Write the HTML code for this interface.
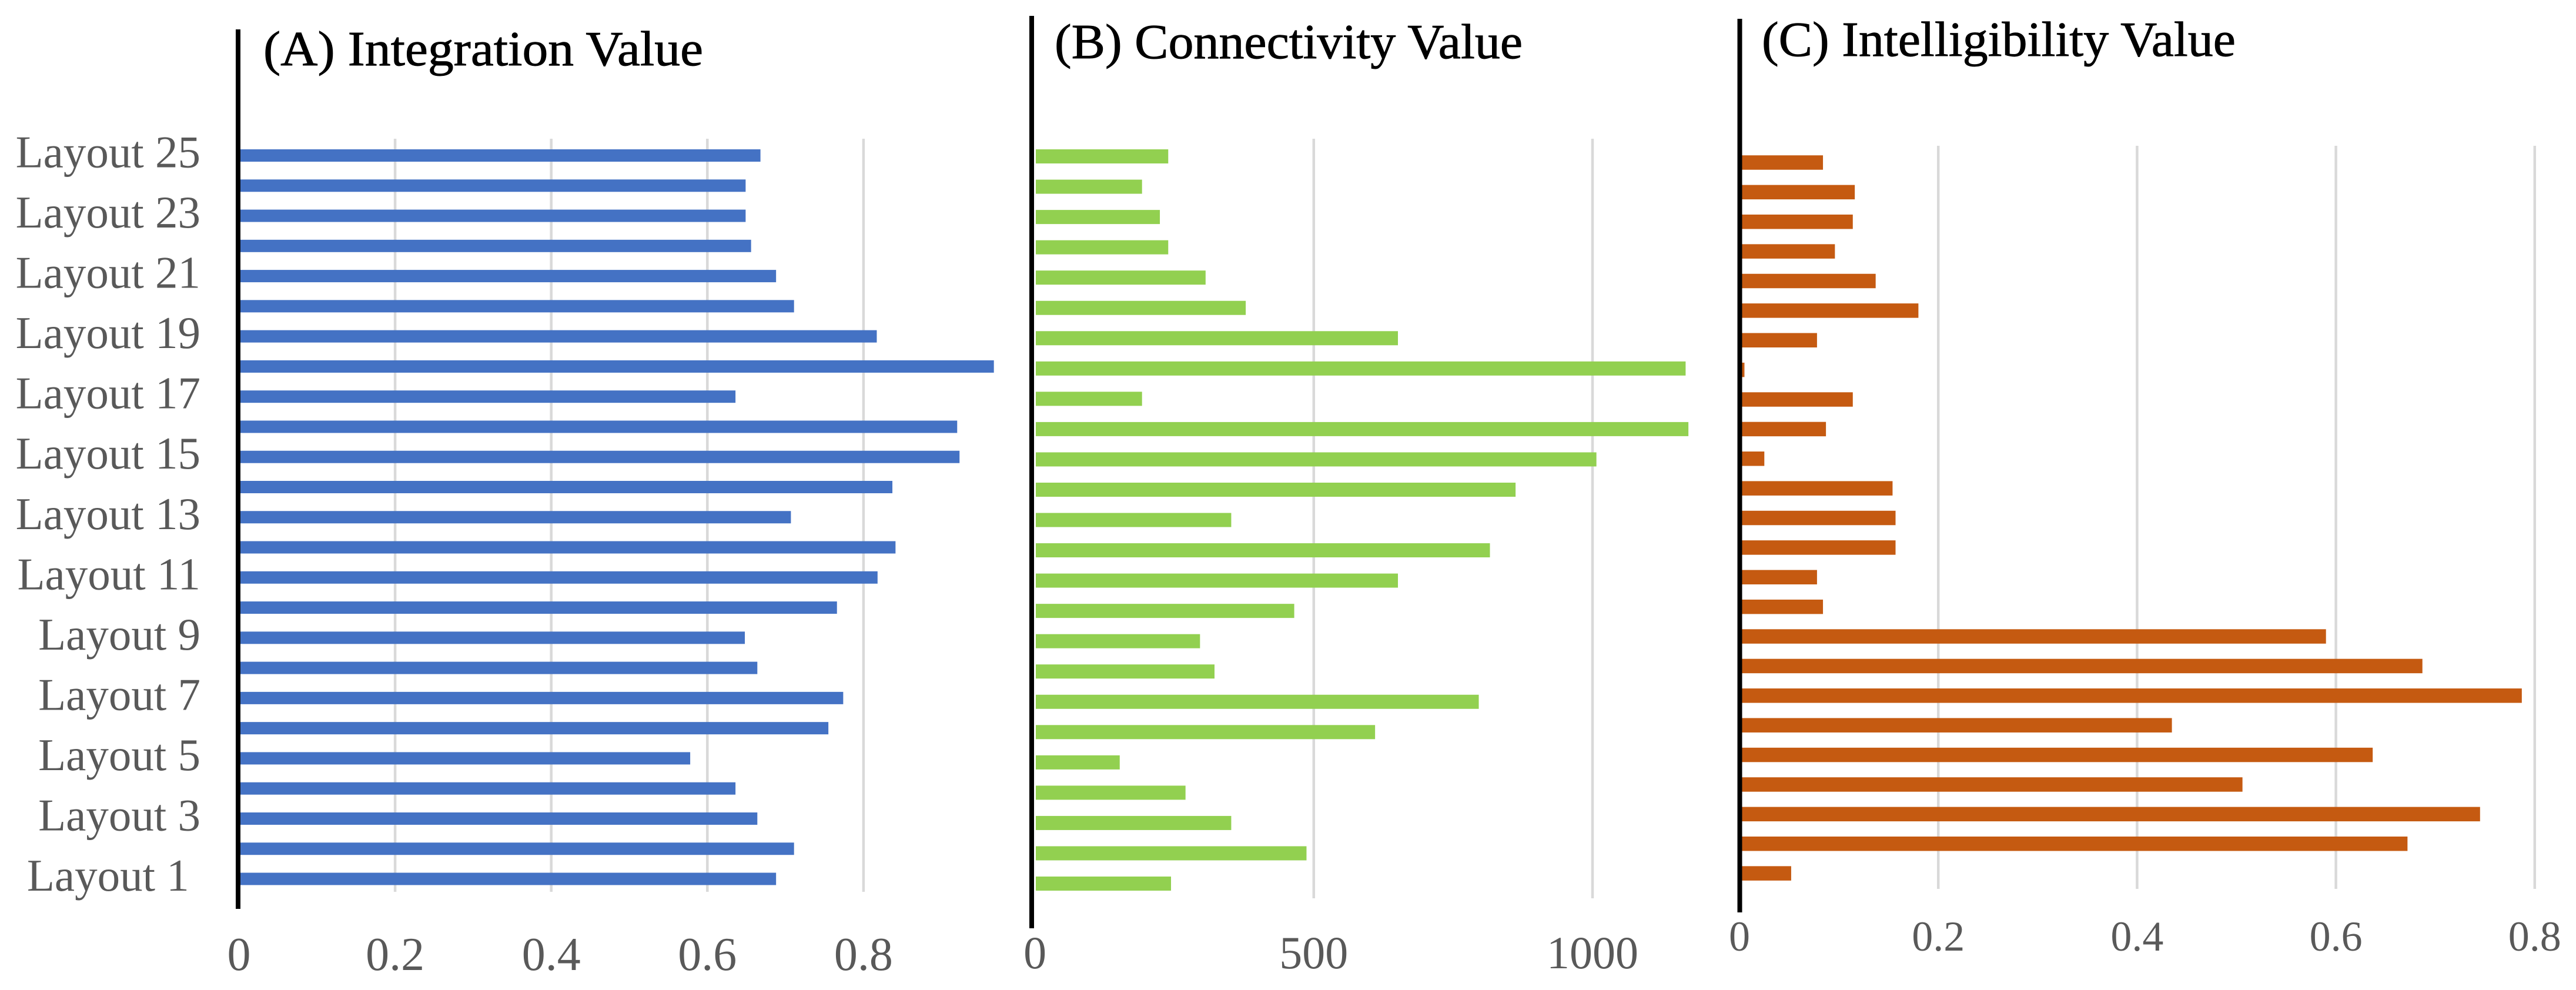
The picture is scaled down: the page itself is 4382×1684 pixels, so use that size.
<!DOCTYPE html>
<html lang="en">
<head>
<meta charset="utf-8">
<title>Integration, Connectivity and Intelligibility Values by Layout</title>
<style>
html,body{margin:0;padding:0;background:#fff;}
svg{display:block;}
text{font-family:"Liberation Serif",serif;}
.tick{fill:#595959;}
.title{fill:#000;stroke:#000;stroke-width:.9px;}
</style>
</head>
<body>
<svg id="chart" xmlns="http://www.w3.org/2000/svg" width="4382" height="1684" viewBox="0 0 4382 1684">
  <rect x="0" y="0" width="4382" height="1684" fill="#ffffff"/>
  <g id="panel-a"></g>
  <g id="panel-b"></g>
  <g id="panel-c"></g>
  <text class="title" x="448" y="111" font-size="84" textLength="748" lengthAdjust="spacingAndGlyphs">(A) Integration Value</text>
  <text class="title" x="1794" y="99" font-size="84" textLength="796" lengthAdjust="spacingAndGlyphs">(B) Connectivity Value</text>
  <text class="title" x="2997" y="95" font-size="84" textLength="806" lengthAdjust="spacingAndGlyphs">(C) Intelligibility Value</text>
</svg>
<script>
// Categories run bottom to top on the chart.
const categories = ['Layout 1','Layout 2','Layout 3','Layout 4','Layout 5','Layout 6','Layout 7','Layout 8','Layout 9','Layout 10','Layout 11','Layout 12','Layout 13','Layout 14','Layout 15','Layout 16','Layout 17','Layout 18','Layout 19','Layout 20','Layout 21','Layout 22','Layout 23','Layout 24','Layout 25'];
const categoryTickLabels = ['Layout 1 ','','Layout 3','','Layout 5','','Layout 7','','Layout 9','','Layout 11','','Layout 13','','Layout 15','','Layout 17','','Layout 19','','Layout 21','','Layout 23','','Layout 25'];
const integrationValues = [0.688,0.711,0.664,0.636,0.578,0.755,0.774,0.664,0.648,0.766,0.818,0.841,0.707,0.837,0.923,0.920,0.636,0.967,0.817,0.711,0.688,0.656,0.649,0.649,0.668];
const connectivityValues = [244,487,352,270,152,610,796,322,296,465,651,816,352,862,1007,1172,192,1167,651,378,306,239,224,192,239];
const intelligibilityValues = [0.052,0.672,0.745,0.506,0.637,0.435,0.787,0.687,0.590,0.084,0.078,0.157,0.157,0.154,0.025,0.087,0.114,0.005,0.078,0.180,0.137,0.096,0.114,0.116,0.084];
const integrationTicks = [0,0.2,0.4,0.6,0.8];
const connectivityTicks = [0,500,1000];
const intelligibilityTicks = [0,0.2,0.4,0.6,0.8];

const SVG_NS = 'http://www.w3.org/2000/svg';

function addShape(parent, tag, attrs) {
  const el = document.createElementNS(SVG_NS, tag);
  for (const key in attrs) el.setAttribute(key, attrs[key]);
  parent.appendChild(el);
  return el;
}

function drawPanel(opts) {
  const g = document.getElementById(opts.id);
  const x = v => opts.zeroX + v * opts.pxPerUnit;
  const y = i => opts.bottomY - i * opts.step;

  opts.ticks.forEach(function (t) {
    if (t !== 0) {
      const line = addShape(g, 'line', {x1: x(t), x2: x(t), y1: opts.gridTop, y2: opts.gridBottom, stroke: '#d9d9d9', 'stroke-width': 4.5});
      
      
    }
    const label = addShape(g, 'text', {x: x(t), y: opts.tickBaseline, 'font-size': opts.tickSize, 'text-anchor': 'middle', class: 'tick'});
    label.textContent = String(t);
    
    
  });

  opts.values.forEach(function (v, i) {
    const bar = addShape(g, 'rect', {x: opts.barStart, y: y(i) - opts.barHeight / 2, width: Math.max(0, x(v) - opts.barStart), height: opts.barHeight, fill: opts.color});
    
    
  });

  const axis = addShape(g, 'rect', {x: opts.axisX - 4, y: opts.axisTop, width: 8, height: opts.axisBottom - opts.axisTop, fill: '#000'});
  
  

  if (opts.showCategories) {
    categoryTickLabels.forEach(function (name, i) {
      if (!name) return;
      const label = addShape(g, 'text', {x: 341, y: y(i) + 20, 'font-size': 77, 'text-anchor': 'end', class: 'tick', style: 'white-space:pre'});
      label.textContent = name;
      
      
    });
  }
}

drawPanel({id: 'panel-a', values: integrationValues, ticks: integrationTicks, color: '#4472c4',
  zeroX: 406.5, pxPerUnit: 1328, bottomY: 1495, step: 51.27, barHeight: 21, barStart: 409,
  axisX: 405, axisTop: 50, axisBottom: 1546, gridTop: 236, gridBottom: 1517,
  tickBaseline: 1650, tickSize: 80, showCategories: true});

drawPanel({id: 'panel-b', values: connectivityValues, ticks: connectivityTicks, color: '#92d050',
  zeroX: 1760.6, pxPerUnit: 0.9484, bottomY: 1503, step: 51.54, barHeight: 24, barStart: 1762,
  axisX: 1755, axisTop: 27, axisBottom: 1579, gridTop: 236, gridBottom: 1528,
  tickBaseline: 1647, tickSize: 78, showCategories: false});

drawPanel({id: 'panel-c', values: intelligibilityValues, ticks: intelligibilityTicks, color: '#c55a11',
  zeroX: 2959, pxPerUnit: 1691, bottomY: 1485.6, step: 50.38, barHeight: 24.5, barStart: 2962,
  axisX: 2959.5, axisTop: 32, axisBottom: 1552, gridTop: 248, gridBottom: 1512,
  tickBaseline: 1617, tickSize: 72, showCategories: false});
</script>
</body>
</html>
